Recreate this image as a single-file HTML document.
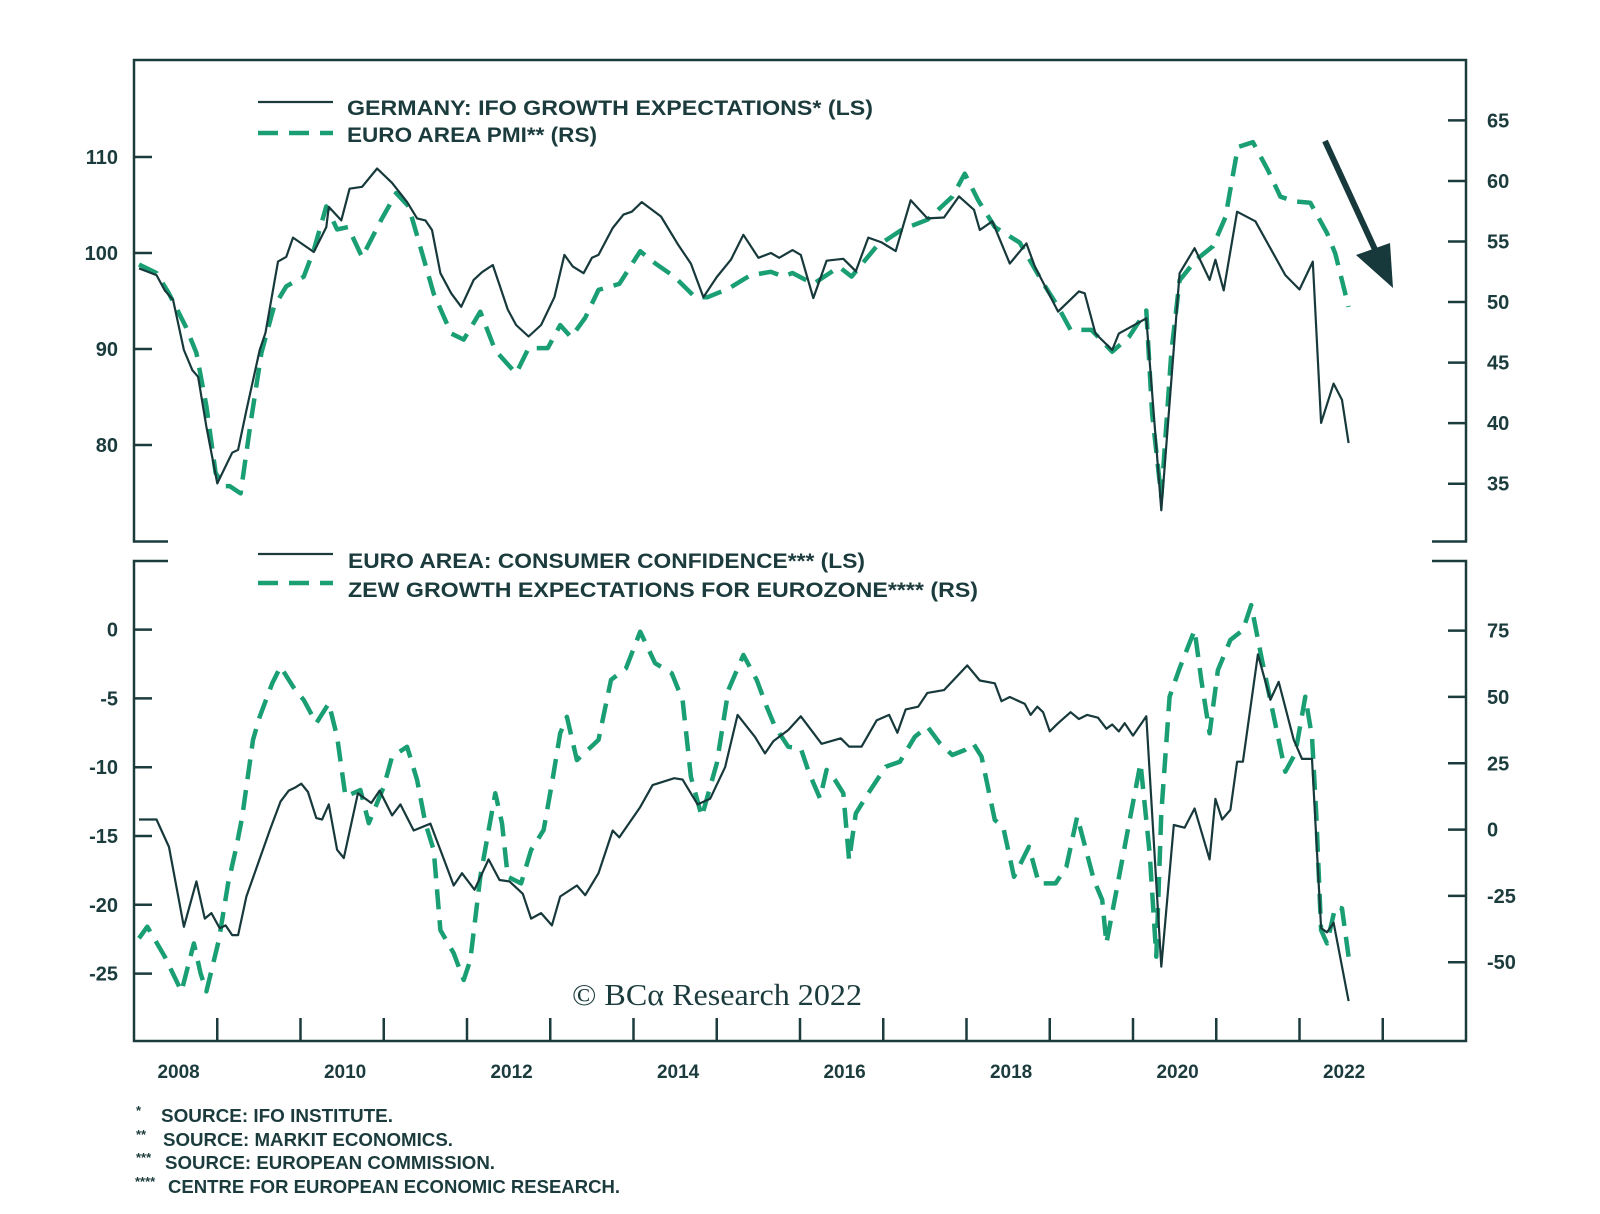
<!DOCTYPE html>
<html><head><meta charset="utf-8"><style>
html,body{margin:0;padding:0;background:#fff;}
svg{display:block;}
text{font-family:"Liberation Sans",sans-serif;fill:#1b3b3d;}
</style></head><body>
<svg id="chart" width="1600" height="1214" viewBox="0 0 1600 1214" xmlns="http://www.w3.org/2000/svg">
<rect x="0" y="0" width="1600" height="1214" fill="#fff"/>
<g id="frames" stroke="#1b3b3d" stroke-width="2.5" fill="none">
<path d="M168 541.5 H134 V60 H1466 V541.5 H1432"/>
<path d="M168 561 H134 V1041 H1466 V561 H1432"/>
</g>
<g id="axes"></g>
<g id="series"></g>
<g>
<line x1="258" y1="102" x2="333" y2="102" stroke="#1b3b3d" stroke-width="2.2"/>
<text x="347" y="115" font-size="21" font-weight="bold" textLength="526" lengthAdjust="spacingAndGlyphs">GERMANY: IFO GROWTH EXPECTATIONS* (LS)</text>
<line x1="258" y1="133" x2="333" y2="133" stroke="#1a9e74" stroke-width="4.5" stroke-dasharray="20 11"/>
<text x="347" y="142" font-size="21" font-weight="bold" textLength="250" lengthAdjust="spacingAndGlyphs">EURO AREA PMI** (RS)</text>
</g>
<g>
<line x1="258" y1="554" x2="333" y2="554" stroke="#1b3b3d" stroke-width="2.2"/>
<text x="348" y="568" font-size="21" font-weight="bold" textLength="517" lengthAdjust="spacingAndGlyphs">EURO AREA: CONSUMER CONFIDENCE*** (LS)</text>
<line x1="258" y1="583" x2="333" y2="583" stroke="#1a9e74" stroke-width="4.5" stroke-dasharray="20 11"/>
<text x="348" y="597" font-size="21" font-weight="bold" textLength="630" lengthAdjust="spacingAndGlyphs">ZEW GROWTH EXPECTATIONS FOR EUROZONE**** (RS)</text>
</g>
<g>
<line x1="1325" y1="141" x2="1378" y2="256" stroke="#17393b" stroke-width="6"/>
<polygon points="1393,288 1356,255 1390,243" fill="#17393b"/>
</g>
<text x="572" y="1005" font-size="31" textLength="290" lengthAdjust="spacingAndGlyphs" style="font-family:'Liberation Serif',serif">© BCα Research 2022</text>
<g font-size="18" font-weight="bold">
<text x="136" y="1115" font-size="13">*</text><text x="161" y="1122" textLength="232" lengthAdjust="spacingAndGlyphs">SOURCE: IFO INSTITUTE.</text>
<text x="136" y="1139" font-size="13">**</text><text x="163" y="1146" textLength="290" lengthAdjust="spacingAndGlyphs">SOURCE: MARKIT ECONOMICS.</text>
<text x="136" y="1162" font-size="13">***</text><text x="165" y="1169" textLength="330" lengthAdjust="spacingAndGlyphs">SOURCE: EUROPEAN COMMISSION.</text>
<text x="135" y="1186" font-size="13">****</text><text x="168" y="1193" textLength="452" lengthAdjust="spacingAndGlyphs">CENTRE FOR EUROPEAN ECONOMIC RESEARCH.</text>
</g>
</svg>
<script>
// ---- data ----
const ifoDates=[2008.06,2008.27,2008.37,2008.47,2008.6,2008.7,2008.77,2008.87,2009.0,2009.18,2009.25,2009.35,2009.51,2009.58,2009.73,2009.83,2009.91,2010.16,2010.31,2010.34,2010.49,2010.59,2010.74,2010.92,2011.1,2011.28,2011.4,2011.5,2011.58,2011.68,2011.81,2011.93,2012.08,2012.18,2012.31,2012.49,2012.59,2012.74,2012.89,2013.05,2013.17,2013.27,2013.4,2013.5,2013.58,2013.75,2013.88,2013.98,2014.1,2014.33,2014.54,2014.69,2014.84,2015.0,2015.17,2015.32,2015.5,2015.65,2015.75,2015.91,2016.01,2016.16,2016.32,2016.52,2016.67,2016.82,2016.98,2017.15,2017.33,2017.53,2017.73,2017.91,2018.09,2018.16,2018.31,2018.52,2018.72,2018.82,2019.1,2019.35,2019.42,2019.55,2019.75,2019.83,2020.16,2020.34,2020.56,2020.74,2020.92,2020.99,2021.09,2021.25,2021.47,2021.83,2022.0,2022.16,2022.26,2022.41,2022.51,2022.59];
const ifoValues=[98.4,97.7,96.1,95.1,89.9,87.8,87.1,81.9,76.0,79.2,79.5,83.6,89.9,91.7,99.1,99.6,101.6,100.1,102.7,104.8,103.4,106.7,106.9,108.8,107.3,105.3,103.6,103.4,102.4,97.9,95.8,94.4,97.2,98.0,98.75,94.1,92.5,91.3,92.5,95.4,99.8,98.6,97.9,99.5,99.8,102.6,104.0,104.3,105.3,103.8,100.8,98.9,95.4,97.5,99.3,101.9,99.5,100.0,99.5,100.3,99.8,95.3,99.2,99.4,98.1,101.6,101.1,100.2,105.5,103.6,103.7,105.9,104.5,102.4,103.3,98.9,101.0,98.6,93.9,96.0,95.8,91.6,89.9,91.6,93.2,73.2,97.9,100.5,97.2,99.3,96.1,104.3,103.3,97.7,96.2,99.1,82.3,86.4,84.7,80.2];
const pmiDates=[2008.06,2008.27,2008.42,2008.62,2008.75,2008.87,2008.98,2009.08,2009.15,2009.28,2009.4,2009.53,2009.68,2009.83,2010.04,2010.16,2010.31,2010.44,2010.57,2010.74,2010.97,2011.15,2011.3,2011.45,2011.6,2011.81,2011.96,2012.16,2012.34,2012.59,2012.74,2012.97,2013.12,2013.25,2013.42,2013.58,2013.83,2014.08,2014.26,2014.49,2014.74,2014.89,2015.14,2015.4,2015.65,2015.8,2015.91,2016.16,2016.47,2016.62,2016.92,2017.23,2017.53,2017.83,2017.98,2018.14,2018.34,2018.64,2018.9,2019.1,2019.25,2019.5,2019.75,2019.95,2020.16,2020.23,2020.34,2020.46,2020.56,2020.76,2020.96,2021.11,2021.26,2021.44,2021.62,2021.77,2021.95,2022.13,2022.33,2022.43,2022.59];
const pmiValues=[53.1,52.4,50.7,48.0,45.8,41.4,35.9,34.8,34.8,34.2,40.0,45.8,49.6,51.3,52.1,54.3,57.9,56.0,56.2,53.7,56.8,59.0,57.9,54.3,50.7,47.4,46.9,49.2,46.0,44.1,46.2,46.2,48.1,47.1,48.7,51.0,51.5,54.2,53.2,52.1,50.4,50.4,51.1,52.2,52.5,52.1,52.4,51.5,52.9,52.1,54.6,56.0,56.8,58.7,60.6,58.4,56.2,54.9,51.8,49.6,47.7,47.7,45.9,47.1,49.3,40.8,33.9,45.8,51.8,53.5,54.6,57.0,62.8,63.2,60.9,58.7,58.3,58.2,55.7,54.0,49.6];
const ccDates=[2008.06,2008.27,2008.42,2008.6,2008.75,2008.85,2008.93,2009.03,2009.1,2009.18,2009.25,2009.35,2009.63,2009.76,2009.86,2009.93,2010.01,2010.09,2010.19,2010.26,2010.34,2010.44,2010.52,2010.69,2010.85,2010.95,2011.1,2011.2,2011.36,2011.56,2011.71,2011.84,2011.94,2012.09,2012.26,2012.39,2012.51,2012.67,2012.77,2012.89,2013.02,2013.12,2013.32,2013.42,2013.58,2013.75,2013.83,2014.08,2014.23,2014.49,2014.59,2014.77,2014.92,2015.1,2015.25,2015.46,2015.58,2015.68,2015.86,2016.01,2016.26,2016.49,2016.59,2016.74,2016.92,2017.07,2017.17,2017.27,2017.42,2017.53,2017.73,2018.01,2018.16,2018.34,2018.42,2018.52,2018.7,2018.77,2018.85,2018.92,2019.0,2019.1,2019.25,2019.35,2019.45,2019.58,2019.68,2019.75,2019.83,2019.9,2020.0,2020.16,2020.34,2020.49,2020.62,2020.74,2020.92,2020.99,2021.07,2021.17,2021.25,2021.32,2021.5,2021.65,2021.75,2021.93,2022.03,2022.15,2022.26,2022.33,2022.41,2022.59];
const ccValues=[-13.8,-13.8,-15.8,-21.6,-18.3,-21.0,-20.6,-21.7,-21.5,-22.2,-22.2,-19.4,-14.6,-12.5,-11.7,-11.5,-11.2,-11.8,-13.7,-13.8,-12.7,-16.0,-16.6,-11.9,-12.6,-11.7,-13.5,-12.7,-14.6,-14.1,-16.5,-18.6,-17.7,-18.9,-16.7,-18.2,-18.3,-19.2,-21.0,-20.6,-21.5,-19.4,-18.6,-19.3,-17.7,-14.6,-15.1,-12.9,-11.3,-10.8,-10.9,-12.7,-12.3,-10.0,-6.2,-7.8,-9.0,-8.1,-7.3,-6.3,-8.3,-7.9,-8.5,-8.5,-6.6,-6.2,-7.5,-5.8,-5.6,-4.6,-4.4,-2.6,-3.7,-3.9,-5.2,-4.9,-5.4,-6.2,-5.6,-6.0,-7.4,-6.8,-6.0,-6.5,-6.2,-6.4,-7.2,-6.9,-7.4,-6.8,-7.7,-6.3,-24.5,-14.2,-14.4,-13.0,-16.7,-12.3,-13.8,-13.1,-9.6,-9.6,-1.8,-5.1,-3.8,-8.0,-9.4,-9.4,-21.7,-22.0,-21.3,-27.0];
const zewDates=[2008.06,2008.16,2008.37,2008.57,2008.72,2008.8,2008.87,2009.02,2009.13,2009.23,2009.3,2009.43,2009.51,2009.66,2009.76,2009.91,2010.04,2010.19,2010.34,2010.44,2010.54,2010.72,2010.82,2011.0,2011.1,2011.28,2011.4,2011.5,2011.6,2011.68,2011.84,2011.96,2012.04,2012.16,2012.34,2012.42,2012.49,2012.65,2012.77,2012.92,2013.02,2013.12,2013.2,2013.32,2013.58,2013.73,2013.91,2014.08,2014.26,2014.46,2014.59,2014.69,2014.82,2015.0,2015.14,2015.32,2015.48,2015.6,2015.7,2015.86,2016.01,2016.11,2016.24,2016.32,2016.42,2016.52,2016.59,2016.67,2016.82,2017.03,2017.2,2017.38,2017.53,2017.68,2017.83,2017.98,2018.08,2018.18,2018.34,2018.44,2018.57,2018.75,2018.87,2019.07,2019.2,2019.33,2019.53,2019.63,2019.68,2019.81,2019.96,2020.09,2020.2,2020.28,2020.34,2020.44,2020.56,2020.74,2020.82,2020.92,2021.02,2021.17,2021.32,2021.42,2021.55,2021.7,2021.83,2021.95,2022.07,2022.15,2022.2,2022.26,2022.33,2022.43,2022.51,2022.59];
const zewValues=[-41.0,-36.6,-47.9,-61.0,-42.9,-54.2,-61.0,-41.6,-20.3,-6.5,4.8,33.8,42.5,55.1,61.4,53.9,48.8,40.1,47.6,35.0,12.4,14.9,2.4,16.2,27.5,31.2,18.7,2.4,-7.7,-37.9,-46.6,-56.7,-49.2,-17.8,13.7,2.4,-17.8,-20.3,-7.7,-0.2,17.4,36.3,42.5,26.2,33.8,56.4,60.8,74.6,62.7,58.9,48.8,19.9,4.9,25.0,52.6,65.8,56.4,46.3,38.8,31.2,30.6,21.2,11.8,22.5,18.7,13.7,-11.5,6.1,13.7,23.7,25.6,35.0,38.8,32.5,28.1,30.0,32.5,27.5,3.6,1.1,-17.8,-6.5,-20.3,-20.3,-14.0,4.9,-19.0,-26.5,-42.9,-21.5,3.6,25.0,-9.0,-47.9,6.1,50.1,60.8,75.2,56.4,36.3,60.1,71.5,75.2,84.6,63.9,41.3,21.8,28.7,50.1,35.0,6.1,-37.9,-42.9,-29.1,-29.7,-47.9];
const yearLabels=[2008,2010,2012,2014,2016,2018,2020,2022];
const topLeftTicks=[110,100,90,80];
const topRightTicks=[65,60,55,50,45,40,35];
const botLeftTicks=[0,-5,-10,-15,-20,-25];
const botRightTicks=[75,50,25,0,-25,-50];

// ---- scales ----
const X=t=>134+(t-2008)*83.25;
const yTL=v=>157+(110-v)*9.6;
const yTR=v=>120.4+(65-v)*12.11;
const yBL=v=>629.6-v*13.76;
const yBR=v=>630.6+(75-v)*2.653;
const NS='http://www.w3.org/2000/svg';
const axes=document.getElementById('axes');
const series=document.getElementById('series');
function mk(tag,attrs,parent){const e=document.createElementNS(NS,tag);for(const k in attrs)e.setAttribute(k,attrs[k]);parent.appendChild(e);return e;}
const DK='#1b3b3d';
function leftTicks(ticks,sc,name){ticks.forEach(v=>{const y=sc(v);
 const l=mk('line',{x1:134,x2:152,y1:y,y2:y,stroke:DK,'stroke-width':2.5},axes);
 
 
 const t=mk('text',{x:118,y:y+7,'text-anchor':'end','font-size':20,'font-weight':'bold'},axes);t.textContent=v;
 
 });}
function rightTicks(ticks,sc,name){ticks.forEach(v=>{const y=sc(v);
 const l=mk('line',{x1:1448,x2:1466,y1:y,y2:y,stroke:DK,'stroke-width':2.5},axes);
 
 
 const t=mk('text',{x:1487,y:y+7,'font-size':20,'font-weight':'bold'},axes);t.textContent=v;
 
 });}
leftTicks(topLeftTicks,yTL,'top-left-axis');
rightTicks(topRightTicks,yTR,'top-right-axis');
leftTicks(botLeftTicks,yBL,'bottom-left-axis');
rightTicks(botRightTicks,yBR,'bottom-right-axis');
for(let yr=2009;yr<=2023;yr++){const x=X(yr);
 const l=mk('line',{x1:x,x2:x,y1:1018,y2:1041,stroke:DK,'stroke-width':2.5},axes);
 
 }
yearLabels.forEach(yr=>{const t=mk('text',{x:X(yr+0.5)+3,y:1078,'text-anchor':'middle','font-size':19,'font-weight':'bold'},axes);t.textContent=yr;
 
 });
function line(dates,vals,sc,dashed,name){const d=dates.map((t,i)=>(i?'L':'M')+X(t).toFixed(1)+' '+sc(vals[i]).toFixed(1)).join(' ');
 const p=mk('path',{d:d,fill:'none',stroke:dashed?'#1a9e74':'#17393b','stroke-width':dashed?4.5:2.2,'stroke-linejoin':'round'},series);
 if(dashed)p.setAttribute('stroke-dasharray','20 11');
 
 }
line(pmiDates,pmiValues,yTR,true,'pmi-line');
line(ifoDates,ifoValues,yTL,false,'ifo-line');
line(zewDates,zewValues,yBR,true,'zew-line');
line(ccDates,ccValues,yBL,false,'consumer-confidence-line');
</script>
</body></html>
